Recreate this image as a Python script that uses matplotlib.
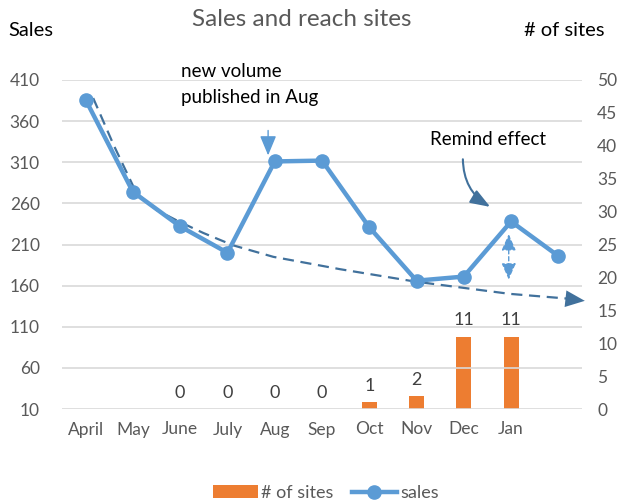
import matplotlib
matplotlib.use("Agg")
from matplotlib import pyplot as plt
import numpy as np

plt.rcParams['font.family'] = ['Lato', 'DejaVu Sans']

# ---- data ----
months = ["April", "May", "June", "July", "Aug", "Sep", "Oct", "Nov", "Dec", "Jan", ""]
sales = [386, 274, 232, 200, 311, 312, 231, 166, 171, 238, 196]
sites = [None, None, 0, 0, 0, 0, 1, 2, 11, 11, None]

# hand drawn trend curve (category position, sales value)
trend_x = [0.16, 0.6, 1.08, 1.5, 1.97, 2.49, 3.12, 3.97, 5.38, 6.96, 8.97, 10.24]
trend_y = [388, 330, 272, 252, 238, 224, 209, 195, 180, 165, 150, 144]

BLUE = "#5B9BD5"
DARK = "#41719C"
ORANGE = "#ED7D31"
GRAY = "#595959"
GRID = "#D9D9D9"

fig = plt.figure(figsize=(6.22, 5.04), dpi=100)
ax = fig.add_axes([62/622, 95/504, 520/622, 329/504])
ax2 = ax.twinx()

x = np.arange(len(months))

# bars on right axis
bar_x = [i for i, s in enumerate(sites) if s is not None]
bar_v = [s for s in sites if s is not None]
bars = ax2.bar(bar_x, bar_v, width=0.32, color=ORANGE, label="# of sites", zorder=2)
for bx, bv in zip(bar_x, bar_v):
    ax2.annotate(str(bv), (bx, bv), xytext=(0, 6), textcoords="offset points",
                 ha="center", va="bottom", fontsize=13, color="#404040")

# sales axis on top so the line draws over the bars
ax.set_zorder(ax2.get_zorder() + 1)
ax.patch.set_visible(False)

line, = ax.plot(x, sales, color=BLUE, lw=3.2, marker="o", ms=9.5,
                label="sales", zorder=5, solid_joinstyle="round")

# trend curve with arrowhead
ax.plot(trend_x, trend_y, color=DARK, lw=1.6, ls=(0, (5, 3)), zorder=4)
ax.annotate("", xy=(trend_x[-1] + 0.32, trend_y[-1] - 2.5), xytext=(trend_x[-1] - 0.4, trend_y[-1] + 2),
            annotation_clip=False,
            arrowprops=dict(arrowstyle="-|>,head_length=0.7,head_width=0.3", color=DARK,
                            lw=0, mutation_scale=20, shrinkA=0, shrinkB=0))

# annotations
ax.text(2.02, 420, "new volume", ha="left", va="center", fontsize=13.5, color="black")
ax.text(2.02, 389, "published in Aug", ha="left", va="center", fontsize=13.5, color="black")
ax.annotate("", xy=(3.86, 315), xytext=(3.86, 352),
            arrowprops=dict(arrowstyle="-|>,head_length=0.6,head_width=0.25", color=BLUE,
                            lw=1, mutation_scale=20))

ax.text(8.51, 338, "Remind effect", ha="center", va="center", fontsize=13.5, color="black")
ax.annotate("", xy=(8.61, 254), xytext=(7.98, 317),
            arrowprops=dict(arrowstyle="-|>,head_length=0.6,head_width=0.22", color=DARK,
                            lw=1.5, mutation_scale=20, connectionstyle="arc3,rad=0.3"))

ax.annotate("", xy=(8.95, 164), xytext=(8.95, 226),
            arrowprops=dict(arrowstyle="<|-|>,head_length=0.5,head_width=0.22", color=BLUE,
                            lw=1, ls=(0, (3, 2)), mutation_scale=20))

# axes styling
ax.set_xlim(-0.5, len(months) - 0.5)
ax.set_ylim(10, 410)
ax.set_yticks(range(10, 411, 50))
ax2.set_ylim(0, 50)
ax2.set_yticks(range(0, 51, 5))
ax.set_xticks(x)
ax.set_xticklabels(months)
ax.yaxis.grid(True, color=GRID, lw=1.2)
ax.set_axisbelow(True)
for a in (ax, ax2):
    for s in a.spines.values():
        s.set_visible(False)
    a.tick_params(length=0, labelsize=12.5, labelcolor=GRAY)
ax.tick_params(axis="y", pad=16)
ax2.tick_params(axis="y", pad=11)
ax.tick_params(axis="x", pad=9)

fig.text(302/622, 1 - 20/504, "Sales and reach sites", ha="center", va="center",
         fontsize=17.5, color=GRAY)
fig.text(8/622, 1 - 30/504, "Sales", ha="left", va="center", fontsize=14.5, color="black")
fig.text(605/622, 1 - 30/504, "# of sites", ha="right", va="center", fontsize=14.5, color="black")

fig.legend([bars, line], ["# of sites", "sales"], loc="center", bbox_to_anchor=(326/622, 1 - 493/504),
           ncol=2, frameon=False, fontsize=13, handlelength=2.5, columnspacing=1.0,
           handletextpad=0.2, labelcolor=GRAY)

fig.savefig("out.png", dpi=100)
